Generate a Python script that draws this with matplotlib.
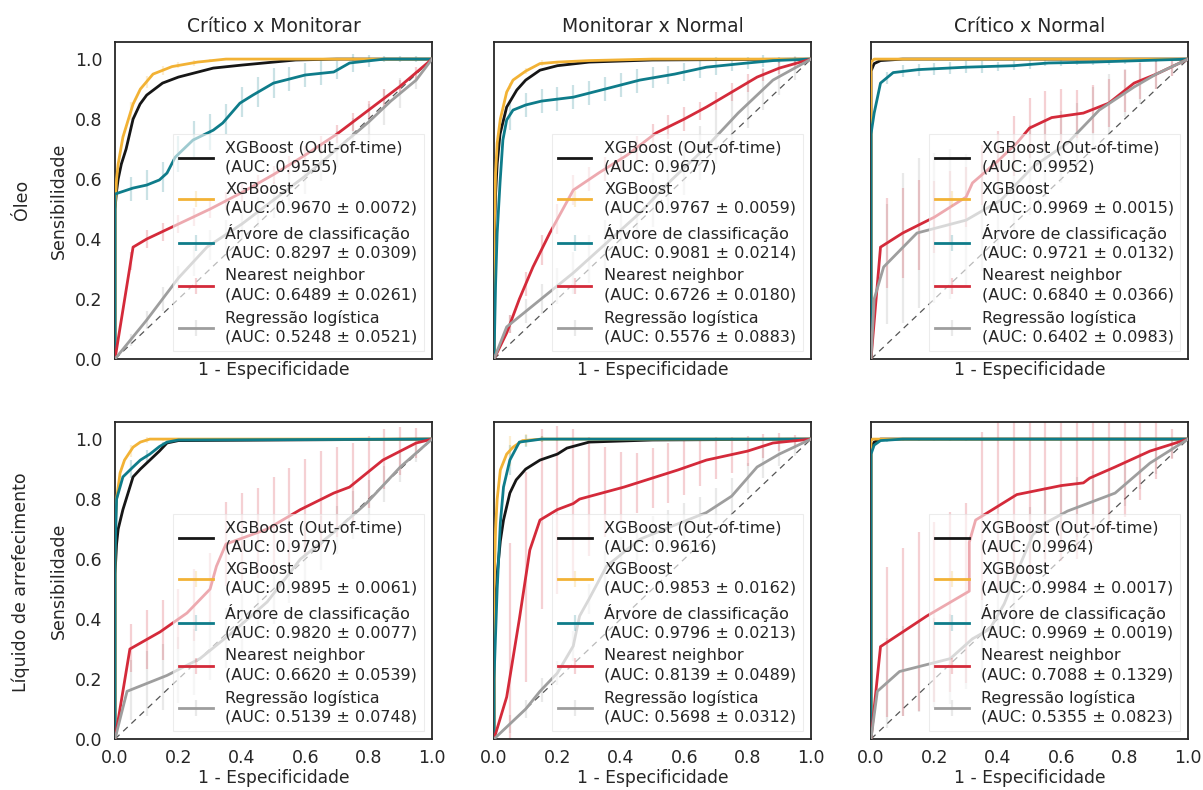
import numpy as np
import matplotlib
matplotlib.use("Agg")
import matplotlib.pyplot as plt
from matplotlib.legend_handler import HandlerTuple

plt.rcParams['font.family'] = ['DejaVu Sans']
plt.rcParams['text.color'] = '#262626'
plt.rcParams['axes.labelcolor'] = '#262626'
plt.rcParams['xtick.color'] = '#262626'
plt.rcParams['ytick.color'] = '#262626'

# ---------------- data ----------------
ROW_LABELS = ["Óleo", "Líquido de arrefecimento"]
COL_TITLES = ["Crítico x Monitorar", "Monitorar x Normal", "Crítico x Normal"]
MODELS = ["XGBoost (Out-of-time)", "XGBoost", "Árvore de classificação",
          "Nearest neighbor", "Regressão logística"]
CHANCE = [0, 1]
BAR_X = [0.05, 0.10, 0.15, 0.20, 0.25, 0.30, 0.35, 0.40, 0.45, 0.50,
         0.55, 0.60, 0.65, 0.70, 0.75, 0.80, 0.85, 0.90, 0.95]
TICKS = [0.0, 0.2, 0.4, 0.6, 0.8, 1.0]

# ---- Óleo / Crítico x Monitorar
O_CM_AUC = [0.9555, 0.9670, 0.8297, 0.6489, 0.5248]
O_CM_AUC_SD = [None, 0.0072, 0.0309, 0.0261, 0.0521]
O_CM_OOT_X = [0, 0, 0.005, 0.01, 0.02, 0.035, 0.057, 0.079, 0.1, 0.15, 0.2, 0.31, 0.4, 0.57, 0.7, 1.0]
O_CM_OOT_Y = [0, 0.5, 0.56, 0.6, 0.65, 0.70, 0.80, 0.85, 0.88, 0.92, 0.94, 0.97, 0.98, 0.997, 1.0, 1.0]
O_CM_XGB_X = [0, 0, 0.005, 0.01, 0.025, 0.057, 0.08, 0.12, 0.18, 0.26, 0.35, 1.0]
O_CM_XGB_Y = [0, 0.5, 0.6, 0.65, 0.74, 0.85, 0.90, 0.95, 0.975, 0.99, 1.0, 1.0]
O_CM_TREE_X = [0, 0, 0.057, 0.1, 0.14, 0.164, 0.19, 0.246, 0.31, 0.34, 0.394, 0.435, 0.5, 0.6, 0.69, 0.74, 0.85, 1.0]
O_CM_TREE_Y = [0, 0.55, 0.57, 0.58, 0.597, 0.62, 0.673, 0.73, 0.763, 0.787, 0.853, 0.88, 0.92, 0.947, 0.957, 0.987, 1.0, 1.0]
O_CM_KNN_X = [0, 0.057, 0.1, 0.2, 0.3, 0.4, 0.5, 0.6, 0.7, 0.8, 0.9, 1.0]
O_CM_KNN_Y = [0, 0.373, 0.40, 0.45, 0.50, 0.555, 0.615, 0.68, 0.75, 0.83, 0.91, 1.0]
O_CM_LR_X = [0, 0.1, 0.2, 0.29, 0.4, 0.5, 0.6, 0.7, 0.8, 0.87, 0.95, 1.0]
O_CM_LR_Y = [0, 0.13, 0.27, 0.373, 0.45, 0.53, 0.61, 0.70, 0.79, 0.86, 0.93, 1.0]
O_CM_XGB_SD = [0.03, 0.02, 0.015, 0.01, 0.01, 0.005, 0, 0, 0, 0, 0, 0, 0, 0, 0, 0, 0, 0, 0]
O_CM_TREE_SD = [0.04, 0.05, 0.05, 0.06, 0.06, 0.06, 0.05, 0.05, 0.05, 0.05, 0.04, 0.04, 0.04, 0.03, 0.03, 0.02, 0.01, 0.01, 0.01]
O_CM_KNN_SD = [0.03, 0.03, 0.03, 0.03, 0.03, 0.03, 0.03, 0.03, 0.03, 0.03, 0.03, 0.03, 0.03, 0.03, 0.03, 0.03, 0.03, 0.02, 0.02]
O_CM_LR_SD = [0.02, 0.03, 0.04, 0.04, 0.05, 0.05, 0.05, 0.05, 0.05, 0.06, 0.06, 0.06, 0.06, 0.06, 0.06, 0.06, 0.06, 0.05, 0.03]

# ---- Óleo / Monitorar x Normal
O_MN_AUC = [0.9677, 0.9767, 0.9081, 0.6726, 0.5576]
O_MN_AUC_SD = [None, 0.0059, 0.0214, 0.0180, 0.0883]
O_MN_OOT_X = [0, 0, 0.005, 0.01, 0.019, 0.04, 0.072, 0.1, 0.145, 0.2, 0.3, 0.5, 1.0]
O_MN_OOT_Y = [0, 0.35, 0.55, 0.65, 0.75, 0.84, 0.897, 0.93, 0.963, 0.978, 0.99, 0.997, 1.0]
O_MN_XGB_X = [0, 0, 0.005, 0.01, 0.02, 0.04, 0.06, 0.1, 0.145, 0.2, 0.3, 0.5, 1.0]
O_MN_XGB_Y = [0, 0.4, 0.62, 0.72, 0.80, 0.89, 0.93, 0.96, 0.985, 0.99, 0.995, 1.0, 1.0]
O_MN_TREE_X = [0, 0.005, 0.01, 0.019, 0.028, 0.04, 0.06, 0.1, 0.15, 0.25, 0.35, 0.46, 0.57, 0.67, 0.78, 0.88, 1.0]
O_MN_TREE_Y = [0, 0.25, 0.42, 0.587, 0.73, 0.797, 0.83, 0.847, 0.86, 0.873, 0.90, 0.93, 0.95, 0.973, 0.985, 0.995, 1.0]
O_MN_KNN_X = [0, 0.04, 0.08, 0.123, 0.176, 0.25, 0.33, 0.42, 0.51, 0.6, 0.67, 0.75, 0.83, 0.9, 1.0]
O_MN_KNN_Y = [0, 0.087, 0.2, 0.307, 0.42, 0.563, 0.62, 0.68, 0.753, 0.80, 0.84, 0.89, 0.94, 0.97, 1.0]
O_MN_LR_X = [0, 0.04, 0.145, 0.25, 0.355, 0.46, 0.56, 0.67, 0.77, 0.88, 1.0]
O_MN_LR_Y = [0, 0.107, 0.197, 0.287, 0.387, 0.487, 0.597, 0.707, 0.82, 0.93, 1.0]
O_MN_XGB_SD = [0.01, 0.01, 0.01, 0.005, 0, 0, 0, 0, 0, 0, 0, 0, 0, 0, 0, 0, 0, 0, 0]
O_MN_TREE_SD = [0.05, 0.04, 0.04, 0.04, 0.04, 0.04, 0.04, 0.04, 0.04, 0.035, 0.03, 0.03, 0.03, 0.03, 0.02, 0.02, 0.02, 0.01, 0.01]
O_MN_KNN_SD = [0.03, 0.04, 0.05, 0.05, 0.05, 0.04, 0.04, 0.04, 0.04, 0.04, 0.04, 0.04, 0.03, 0.03, 0.03, 0.03, 0.02, 0.02, 0.01]
O_MN_LR_SD = [0.03, 0.04, 0.05, 0.06, 0.07, 0.08, 0.08, 0.09, 0.09, 0.09, 0.09, 0.09, 0.09, 0.09, 0.09, 0.08, 0.07, 0.06, 0.04]

# ---- Óleo / Crítico x Normal
O_CN_AUC = [0.9952, 0.9969, 0.9721, 0.6840, 0.6402]
O_CN_AUC_SD = [None, 0.0015, 0.0132, 0.0366, 0.0983]
O_CN_OOT_X = [0, 0, 0.01, 0.03, 0.1, 1.0]
O_CN_OOT_Y = [0, 0.96, 0.985, 0.995, 1.0, 1.0]
O_CN_XGB_X = [0, 0, 0.01, 1.0]
O_CN_XGB_Y = [0, 0.99, 1.0, 1.0]
O_CN_TREE_X = [0, 0, 0.01, 0.03, 0.07, 0.15, 0.3, 0.45, 0.56, 0.7, 0.85, 1.0]
O_CN_TREE_Y = [0, 0.75, 0.82, 0.92, 0.955, 0.965, 0.973, 0.978, 0.987, 0.99, 0.995, 1.0]
O_CN_KNN_X = [0, 0.03, 0.1, 0.2, 0.3, 0.32, 0.4, 0.46, 0.5, 0.57, 0.67, 0.75, 0.83, 0.9, 1.0]
O_CN_KNN_Y = [0, 0.373, 0.42, 0.473, 0.54, 0.587, 0.66, 0.72, 0.77, 0.805, 0.82, 0.853, 0.92, 0.95, 1.0]
O_CN_LR_X = [0, 0.01, 0.04, 0.145, 0.3, 0.41, 0.51, 0.62, 0.72, 0.83, 0.9, 1.0]
O_CN_LR_Y = [0, 0.2, 0.307, 0.42, 0.463, 0.53, 0.64, 0.72, 0.83, 0.907, 0.95, 1.0]
O_CN_XGB_SD = [0] * 19
O_CN_TREE_SD = [0.02, 0.02, 0.02, 0.02, 0.02, 0.02, 0.02, 0.015, 0.015, 0.015, 0.01, 0.01, 0.01, 0.01, 0.01, 0.01, 0.005, 0.005, 0.005]
O_CN_KNN_SD = [0.15, 0.15, 0.15, 0.12, 0.12, 0.1, 0.1, 0.1, 0.1, 0.1, 0.1, 0.09, 0.08, 0.08, 0.08, 0.07, 0.06, 0.05, 0.03]
O_CN_LR_SD = [0.2, 0.25, 0.25, 0.25, 0.25, 0.22, 0.2, 0.18, 0.15, 0.15, 0.13, 0.12, 0.1, 0.1, 0.1, 0.08, 0.07, 0.05, 0.03]

# ---- Líquido / Crítico x Monitorar
L_CM_AUC = [0.9797, 0.9895, 0.9820, 0.6620, 0.5139]
L_CM_AUC_SD = [None, 0.0061, 0.0077, 0.0539, 0.0748]
L_CM_OOT_X = [0, 0, 0.005, 0.01, 0.025, 0.057, 0.08, 0.11, 0.14, 0.164, 0.2, 1.0]
L_CM_OOT_Y = [0, 0.55, 0.65, 0.70, 0.765, 0.874, 0.9, 0.93, 0.96, 0.987, 0.995, 1.0]
L_CM_XGB_X = [0, 0, 0.005, 0.016, 0.03, 0.057, 0.08, 0.11, 1.0]
L_CM_XGB_Y = [0, 0.7, 0.8, 0.887, 0.93, 0.973, 0.99, 1.0, 1.0]
L_CM_TREE_X = [0, 0, 0.005, 0.025, 0.057, 0.08, 0.11, 0.14, 0.164, 0.2, 1.0]
L_CM_TREE_Y = [0, 0.6, 0.8, 0.874, 0.907, 0.93, 0.95, 0.975, 0.99, 0.997, 1.0]
L_CM_KNN_X = [0, 0.047, 0.142, 0.227, 0.30, 0.32, 0.35, 0.48, 0.585, 0.69, 0.74, 0.845, 0.95, 1.0]
L_CM_KNN_Y = [0, 0.30, 0.357, 0.42, 0.50, 0.576, 0.65, 0.70, 0.765, 0.82, 0.84, 0.93, 0.987, 1.0]
L_CM_LR_X = [0, 0.038, 0.164, 0.268, 0.372, 0.48, 0.585, 0.69, 0.795, 0.90, 1.0]
L_CM_LR_Y = [0, 0.159, 0.212, 0.268, 0.357, 0.457, 0.60, 0.689, 0.788, 0.907, 1.0]
L_CM_XGB_SD = [0.02, 0.01, 0.005, 0, 0, 0, 0, 0, 0, 0, 0, 0, 0, 0, 0, 0, 0, 0, 0]
L_CM_TREE_SD = [0.03, 0.02, 0.01, 0.005, 0, 0, 0, 0, 0, 0, 0, 0, 0, 0, 0, 0, 0, 0, 0]
L_CM_KNN_SD = [0.08, 0.1, 0.1, 0.1, 0.12, 0.12, 0.14, 0.15, 0.15, 0.16, 0.16, 0.16, 0.16, 0.15, 0.14, 0.12, 0.1, 0.08, 0.05]
L_CM_LR_SD = [0.1, 0.11, 0.11, 0.11, 0.11, 0.1, 0.1, 0.1, 0.1, 0.1, 0.1, 0.09, 0.09, 0.08, 0.08, 0.07, 0.06, 0.05, 0.03]

# ---- Líquido / Monitorar x Normal
L_MN_AUC = [0.9616, 0.9853, 0.9796, 0.8139, 0.5698]
L_MN_AUC_SD = [None, 0.0162, 0.0213, 0.0489, 0.0312]
L_MN_OOT_X = [0, 0, 0.005, 0.01, 0.02, 0.03, 0.05, 0.07, 0.1, 0.145, 0.2, 0.23, 0.3, 0.5, 1.0]
L_MN_OOT_Y = [0, 0.3, 0.45, 0.55, 0.66, 0.73, 0.82, 0.864, 0.9, 0.93, 0.95, 0.97, 0.99, 0.997, 1.0]
L_MN_XGB_X = [0, 0, 0.005, 0.01, 0.02, 0.04, 0.06, 0.09, 0.15, 1.0]
L_MN_XGB_Y = [0, 0.5, 0.7, 0.8, 0.897, 0.95, 0.973, 0.995, 1.0, 1.0]
L_MN_TREE_X = [0, 0, 0.005, 0.01, 0.02, 0.03, 0.05, 0.08, 0.15, 1.0]
L_MN_TREE_Y = [0, 0.2, 0.35, 0.5, 0.72, 0.84, 0.93, 0.99, 1.0, 1.0]
L_MN_KNN_X = [0, 0.04, 0.08, 0.113, 0.145, 0.2, 0.25, 0.27, 0.41, 0.58, 0.67, 0.8, 0.88, 1.0]
L_MN_KNN_Y = [0, 0.14, 0.40, 0.63, 0.73, 0.765, 0.785, 0.80, 0.84, 0.897, 0.93, 0.96, 0.987, 1.0]
L_MN_LR_X = [0, 0.1, 0.145, 0.2, 0.25, 0.27, 0.3, 0.355, 0.46, 0.56, 0.67, 0.75, 0.83, 0.9, 1.0]
L_MN_LR_Y = [0, 0.1, 0.159, 0.22, 0.31, 0.41, 0.467, 0.576, 0.666, 0.709, 0.755, 0.81, 0.907, 0.95, 1.0]
L_MN_XGB_SD = [0.05, 0.02, 0.01, 0.005, 0, 0, 0, 0, 0, 0, 0, 0, 0, 0, 0, 0, 0, 0, 0]
L_MN_TREE_SD = [0.05, 0.02, 0.01, 0.005, 0, 0, 0, 0, 0, 0, 0, 0, 0, 0, 0, 0, 0, 0, 0]
L_MN_KNN_SD = [0.45, 0.35, 0.3, 0.28, 0.25, 0.2, 0.15, 0.12, 0.1, 0.1, 0.1, 0.09, 0.08, 0.07, 0.06, 0.05, 0.04, 0.03, 0.02]
L_MN_LR_SD = [0.03, 0.03, 0.04, 0.04, 0.05, 0.05, 0.06, 0.06, 0.06, 0.06, 0.06, 0.06, 0.06, 0.06, 0.06, 0.05, 0.05, 0.04, 0.03]

# ---- Líquido / Crítico x Normal
L_CN_AUC = [0.9964, 0.9984, 0.9969, 0.7088, 0.5355]
L_CN_AUC_SD = [None, 0.0017, 0.0019, 0.1329, 0.0823]
L_CN_OOT_X = [0, 0, 0.01, 0.03, 1.0]
L_CN_OOT_Y = [0, 0.97, 0.99, 1.0, 1.0]
L_CN_XGB_X = [0, 0, 0.005, 1.0]
L_CN_XGB_Y = [0, 0.995, 1.0, 1.0]
L_CN_TREE_X = [0, 0, 0.01, 0.03, 0.1, 1.0]
L_CN_TREE_Y = [0, 0.95, 0.98, 0.995, 1.0, 1.0]
L_CN_KNN_X = [0, 0.03, 0.176, 0.31, 0.31, 0.33, 0.46, 0.6, 0.67, 0.69, 0.77, 0.88, 1.0]
L_CN_KNN_Y = [0, 0.308, 0.41, 0.493, 0.656, 0.73, 0.815, 0.845, 0.854, 0.87, 0.907, 0.96, 1.0]
L_CN_LR_X = [0, 0.02, 0.09, 0.25, 0.32, 0.375, 0.42, 0.47, 0.51, 0.55, 0.62, 0.77, 0.88, 1.0]
L_CN_LR_Y = [0, 0.159, 0.225, 0.268, 0.334, 0.367, 0.45, 0.58, 0.68, 0.72, 0.76, 0.82, 0.92, 1.0]
L_CN_XGB_SD = [0] * 19
L_CN_TREE_SD = [0.005] * 19
L_CN_KNN_SD = [0.25, 0.28, 0.3, 0.3, 0.3, 0.3, 0.28, 0.28, 0.28, 0.28, 0.26, 0.25, 0.25, 0.22, 0.2, 0.18, 0.15, 0.1, 0.05]
L_CN_LR_SD = [0.15, 0.15, 0.15, 0.15, 0.15, 0.15, 0.15, 0.15, 0.15, 0.12, 0.12, 0.1, 0.1, 0.1, 0.08, 0.07, 0.06, 0.05, 0.03]

PANELS = [
    [(O_CM_OOT_X, O_CM_OOT_Y), (O_CM_XGB_X, O_CM_XGB_Y, O_CM_XGB_SD), (O_CM_TREE_X, O_CM_TREE_Y, O_CM_TREE_SD),
     (O_CM_KNN_X, O_CM_KNN_Y, O_CM_KNN_SD), (O_CM_LR_X, O_CM_LR_Y, O_CM_LR_SD), O_CM_AUC, O_CM_AUC_SD],
    [(O_MN_OOT_X, O_MN_OOT_Y), (O_MN_XGB_X, O_MN_XGB_Y, O_MN_XGB_SD), (O_MN_TREE_X, O_MN_TREE_Y, O_MN_TREE_SD),
     (O_MN_KNN_X, O_MN_KNN_Y, O_MN_KNN_SD), (O_MN_LR_X, O_MN_LR_Y, O_MN_LR_SD), O_MN_AUC, O_MN_AUC_SD],
    [(O_CN_OOT_X, O_CN_OOT_Y), (O_CN_XGB_X, O_CN_XGB_Y, O_CN_XGB_SD), (O_CN_TREE_X, O_CN_TREE_Y, O_CN_TREE_SD),
     (O_CN_KNN_X, O_CN_KNN_Y, O_CN_KNN_SD), (O_CN_LR_X, O_CN_LR_Y, O_CN_LR_SD), O_CN_AUC, O_CN_AUC_SD],
    [(L_CM_OOT_X, L_CM_OOT_Y), (L_CM_XGB_X, L_CM_XGB_Y, L_CM_XGB_SD), (L_CM_TREE_X, L_CM_TREE_Y, L_CM_TREE_SD),
     (L_CM_KNN_X, L_CM_KNN_Y, L_CM_KNN_SD), (L_CM_LR_X, L_CM_LR_Y, L_CM_LR_SD), L_CM_AUC, L_CM_AUC_SD],
    [(L_MN_OOT_X, L_MN_OOT_Y), (L_MN_XGB_X, L_MN_XGB_Y, L_MN_XGB_SD), (L_MN_TREE_X, L_MN_TREE_Y, L_MN_TREE_SD),
     (L_MN_KNN_X, L_MN_KNN_Y, L_MN_KNN_SD), (L_MN_LR_X, L_MN_LR_Y, L_MN_LR_SD), L_MN_AUC, L_MN_AUC_SD],
    [(L_CN_OOT_X, L_CN_OOT_Y), (L_CN_XGB_X, L_CN_XGB_Y, L_CN_XGB_SD), (L_CN_TREE_X, L_CN_TREE_Y, L_CN_TREE_SD),
     (L_CN_KNN_X, L_CN_KNN_Y, L_CN_KNN_SD), (L_CN_LR_X, L_CN_LR_Y, L_CN_LR_SD), L_CN_AUC, L_CN_AUC_SD],
]

COLORS = ['#161616', '#f2b235', '#0e7c8a', '#d42a3a', '#9e9e9e']

# ---------------- figure ----------------
W, H = 1203, 790
fig = plt.figure(figsize=(W / 100, H / 100), dpi=100)
fig.patch.set_facecolor('white')

col_left = [115, 494, 871]
row_top = [42, 422]
ax_w, ax_h = 317, 317

for idx, panel in enumerate(PANELS):
    r, c = divmod(idx, 3)
    ax = fig.add_axes([col_left[c] / W, 1 - (row_top[r] + ax_h) / H, ax_w / W, ax_h / H])
    ax.set_facecolor('white')
    ax.plot(CHANCE, CHANCE, linestyle=(0, (5, 4)), color='#555555', lw=0.9, zorder=1)

    oot, xgb, tree, knn, lr, aucs, auc_sds = panel
    handles = [None] * 5
    draw_order = [4, 3, 2, 0, 1]
    curves = [oot, xgb, tree, knn, lr]
    for k in draw_order:
        cv = curves[k]
        col = COLORS[k]
        line, = ax.plot(cv[0], cv[1], color=col, lw=2.0, zorder=3 + k * 0.1)
        if len(cv) == 3:
            centers = np.interp(BAR_X, cv[0], cv[1])
            eb = ax.errorbar(BAR_X, centers, yerr=cv[2], fmt='none', ecolor=col,
                             elinewidth=1.6, alpha=0.22, capsize=0, zorder=2)
            handles[k] = (line, eb)
        else:
            handles[k] = line

    labels = []
    for k in range(5):
        if auc_sds[k] is None:
            labels.append(f"{MODELS[k]}\n(AUC: {aucs[k]:.4f})")
        else:
            labels.append(f"{MODELS[k]}\n(AUC: {aucs[k]:.4f} ± {auc_sds[k]:.4f})")
    leg = ax.legend(handles, labels, loc='lower right', fontsize=11.5,
                    handler_map={tuple: HandlerTuple(ndivide=1)},
                    framealpha=0.6, edgecolor='0.88', fancybox=False,
                    labelspacing=0.5, handlelength=2.1, handletextpad=0.8,
                    borderpad=0.4, borderaxespad=0.5)
    for t in leg.get_texts():
        t.set_linespacing(1.3)
    leg.get_frame().set_linewidth(0.8)
    leg.set_zorder(10)

    ax.set_xlim(0, 1)
    ax.set_ylim(0, 1.057)
    ax.set_xticks(TICKS)
    ax.set_yticks(TICKS)
    ax.tick_params(axis='y', length=0, labelsize=12.5, pad=9)
    ax.tick_params(axis='x', length=0, labelsize=12.5, pad=7)
    for s in ax.spines.values():
        s.set_color('#262626')
        s.set_linewidth(1.3)
    ax.set_xlabel("1 - Especificidade", fontsize=12.3, labelpad=1.5)
    if r == 0:
        ax.tick_params(labelbottom=False)
        ax.set_title(COL_TITLES[c], fontsize=13.5, pad=7)
    if c == 0:
        ax.set_ylabel("Sensibilidade", fontsize=12.5, labelpad=5)
    else:
        ax.tick_params(labelleft=False)

fig.text(22 / W, 1 - 200 / H, ROW_LABELS[0], rotation=90, ha='center', va='center', fontsize=12.5)
fig.text(21 / W, 1 - 582 / H, ROW_LABELS[1], rotation=90, ha='center', va='center', fontsize=12.5)

fig.savefig('out.png', dpi=100, facecolor='white')
